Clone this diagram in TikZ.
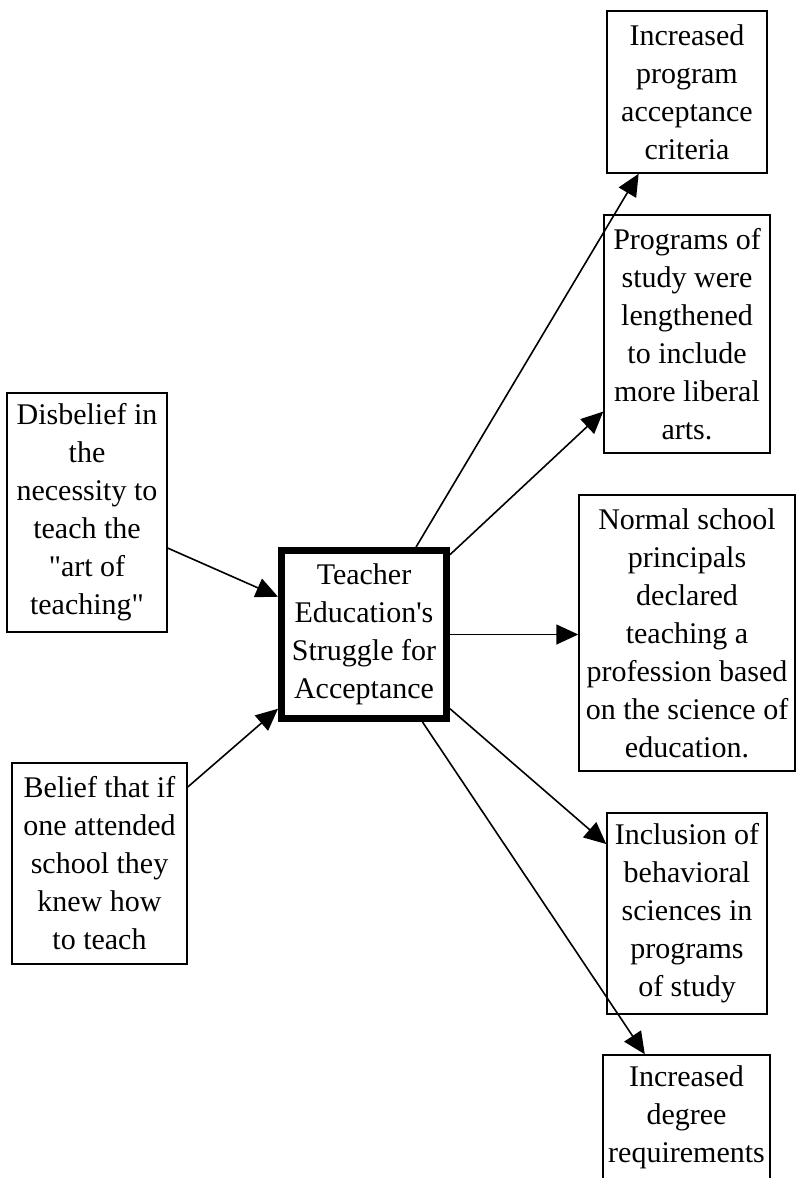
\documentclass[tikz,border=0pt]{standalone}
\usepackage{fontspec}
\setmainfont{Liberation Serif}
\usetikzlibrary{arrows.meta}
\begin{document}
\begin{tikzpicture}[x=1pt,y=-1pt,
  box/.style={draw, line width=1.5pt, rectangle, inner sep=0pt, align=center,
    font=\fontsize{30}{38}\selectfont},
  hub/.style={box, line width=7pt},
  link/.style={line width=1.6pt, -{Triangle[length=22pt,width=20pt]}}]
\useasboundingbox (0,0) rectangle (796,1178);
% central node
\node[hub, minimum width=165pt, minimum height=168pt] (c) at (364,634.5)
  {Teacher\\Education\textquotesingle s\\Struggle for\\Acceptance};
% right side
\node[box, minimum width=160pt, minimum height=162pt] (inc) at (687,92)
  {Increased\\program\\acceptance\\criteria};
\node[box, minimum width=166pt, minimum height=238pt] (prog) at (687,334)
  {Programs of\\study were\\lengthened\\to include\\more liberal\\arts.};
\node[box, minimum width=216pt, minimum height=276pt] (nrm) at (687,633)
  {Normal school\\principals\\declared\\teaching a\\profession based\\on the science of\\education.};
\node[box, minimum width=160pt, minimum height=201pt] (incl) at (687,913.5)
  {Inclusion of\\behavioral\\sciences in\\programs\\of study};
\node[box, minimum width=167pt, minimum height=124pt] (deg) at (686.5,1117)
  {Increased\\degree\\requirements};
% left side
\node[box, minimum width=160pt, minimum height=239pt] (disb) at (87,512.5)
  {Disbelief in\\the\\necessity to\\teach the\\\textquotedbl art of\\teaching\textquotedbl};
\node[box, minimum width=175pt, minimum height=201pt] (bel) at (99.5,863.5)
  {Belief that if\\one attended\\school they\\knew how\\to teach};
% connectors
\draw[link] (disb) -- (c);
\draw[link] (bel) -- (c);
\draw[link] (c) -- (inc);
\draw[link] (c) -- (prog);
\draw[link] (c.east) -- (c.east -| nrm.west);
\draw[link] (c) -- (incl);
\draw[link] (c) -- (deg);
\end{tikzpicture}
\end{document}
